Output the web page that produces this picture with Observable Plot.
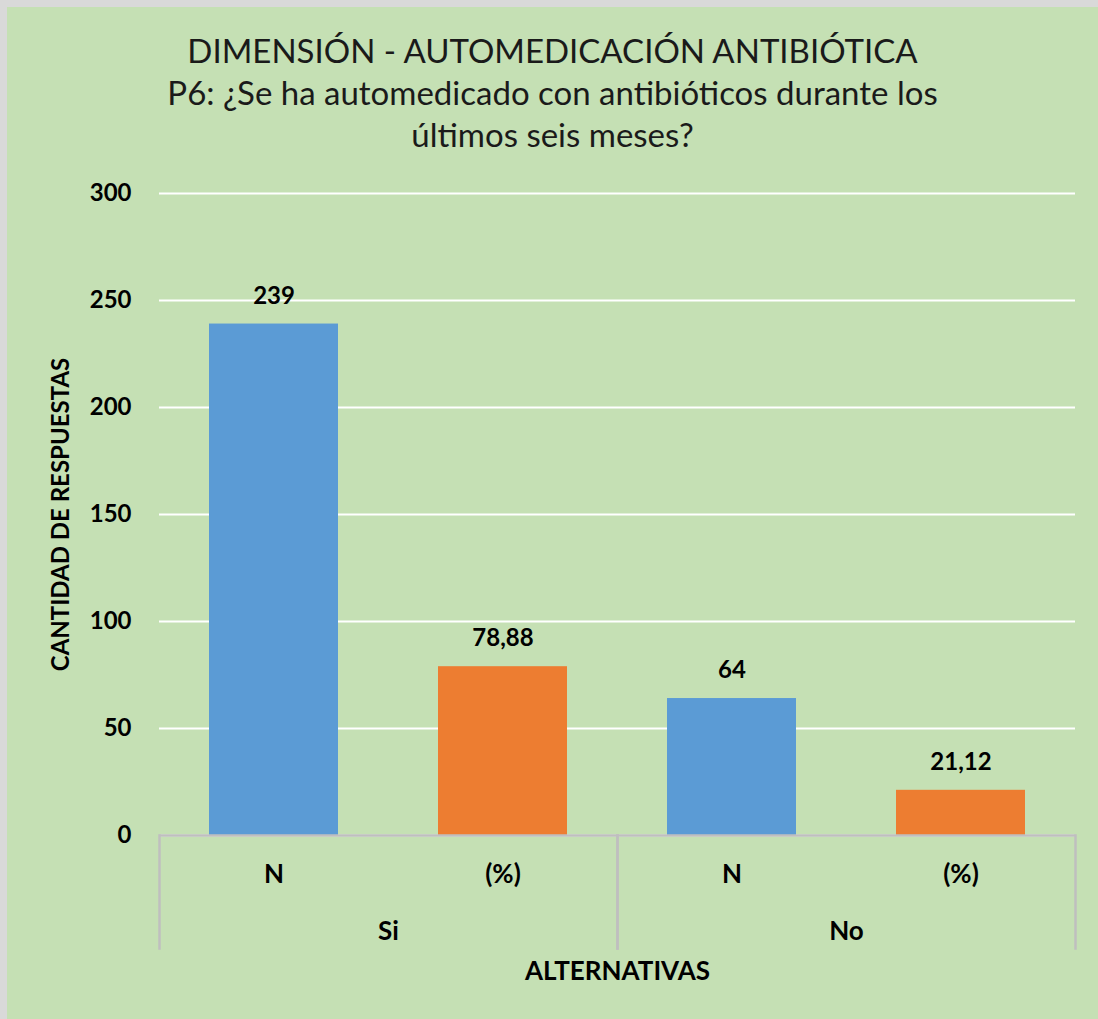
<!DOCTYPE html>
<html>
<head>
<meta charset="utf-8">
<script src="https://cdn.jsdelivr.net/npm/d3@7"></script>
<script src="https://cdn.jsdelivr.net/npm/@observablehq/plot@0.6"></script>
<style>
  html, body { margin: 0; padding: 0; background: #d9d9d9; }
  #wrap { position: absolute; left: 7px; top: 7px; width: 1091px; height: 1012px; background: #C5E0B4; font-family: Lato, "Open Sans", sans-serif; }
  #title { height: 160px; box-sizing: border-box; padding-top: 22px; text-align: center; color: #1a1a1a; font-size: 33px; line-height: 42px; }
  #chart svg { display: block; }
</style>
</head>
<body>
<div id="wrap">
  <div id="title">DIMENSIÓN - AUTOMEDICACIÓN ANTIBIÓTICA<br>P6: ¿Se ha automedicado con antibióticos durante los<br>últimos seis meses?</div>
  <div id="chart"></div>
</div>
<script>
const groups = ["Si", "No"];
const subs = ["N", "(%)"];
const values = [239, 78.88, 64, 21.12];
const valueLabels = ["239", "78,88", "64", "21,12"];
const yTicks = [0, 50, 100, 150, 200, 250, 300];
const colors = ["#5B9BD5", "#ED7D31"];

const data = groups.flatMap((g, i) => subs.map((s, j) => ({
  group: g, sub: s, value: values[i * 2 + j], label: valueLabels[i * 2 + j]
})));

const gray = "#BFBFBF";
const plot = Plot.plot({
  width: 1091,
  height: 852,
  marginLeft: 151,
  marginRight: 23,
  marginTop: 26,
  marginBottom: 184,
  style: { background: "transparent", fontFamily: "Lato, 'Open Sans', sans-serif", color: "#000" },
  fx: { domain: groups, padding: 0, label: null },
  x: { domain: subs, paddingInner: 0.4375, paddingOuter: 0.21875, label: null },
  y: { domain: [0, 300], label: null },
  color: { domain: subs, range: colors },
  marks: [
    Plot.gridY(yTicks, { stroke: "#fff", strokeOpacity: 1, strokeWidth: 2 }),
    Plot.axisY(yTicks, { tickSize: 0, tickPadding: 28, fontSize: 24, fontWeight: "bold",
      label: "CANTIDAD DE RESPUESTAS", labelAnchor: "center", labelArrow: "none", labelOffset: 108 }),
    Plot.barY(data, { fx: "group", x: "sub", y: "value", fill: "sub" }),
    Plot.text(data, { fx: "group", x: "sub", y: "value", text: "label", dy: -28, fontSize: 24, fontWeight: "bold", fill: "#000" }),
    Plot.ruleY([0], { stroke: gray, strokeWidth: 2.5 }),
    Plot.axisX({ tickSize: 0, tickPadding: 29, fontSize: 26, fontWeight: "bold", label: null }),
    Plot.axisFx({ anchor: "bottom", tickSize: 0, tickPadding: 86, fontSize: 26, fontWeight: "bold",
      label: "ALTERNATIVAS", labelAnchor: "center", labelArrow: "none", labelOffset: 144 }),
    Plot.frame({ anchor: "left", insetTop: 642, insetBottom: -113, stroke: gray, strokeWidth: 2.5 }),
    Plot.frame({ anchor: "right", insetTop: 642, insetBottom: -113, stroke: gray, strokeWidth: 2.5 })
  ]
});
document.getElementById("chart").appendChild(plot);
</script>
</body>
</html>
